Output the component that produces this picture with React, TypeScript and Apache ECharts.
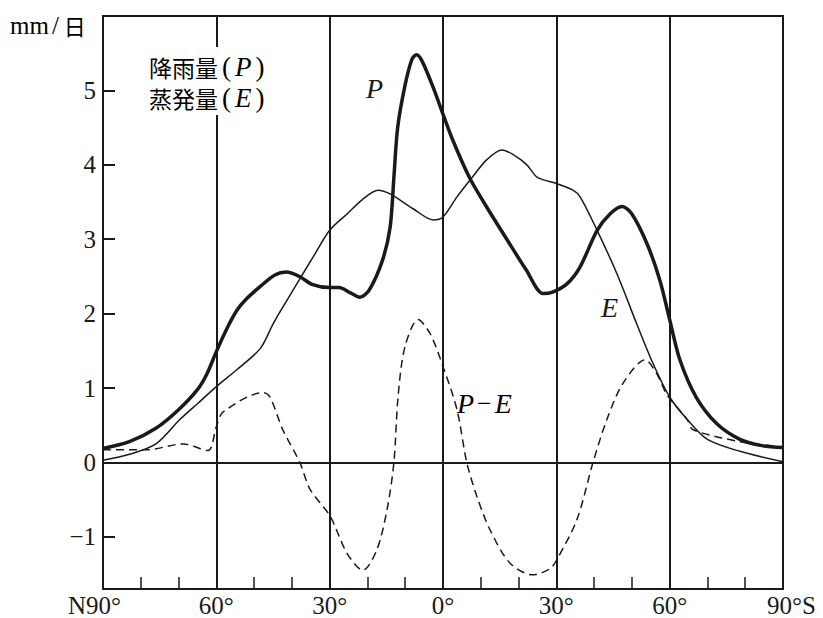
import React, { useEffect, useRef } from "react";
import * as echarts from "echarts";

// Latitude (N positive, S negative) and daily amounts (mm/日)
const latP = [90, 83, 76, 70, 65, 62.5, 60, 57, 54.5, 52, 48.5, 44.5, 41.5, 38, 34.5, 30, 27.5, 24.5, 22, 19.5, 16, 14, 13, 12, 10, 8.2, 7, 5.6, 2.6, 0, -2.6, -7, -11.6, -17, -22, -26.5, -29, -32.8, -36.3, -40.8, -44.2, -47.4, -50, -54, -57.4, -60, -62.7, -67, -72.5, -78.6, -84, -90];
const valP = [0.19, 0.28, 0.46, 0.71, 0.98, 1.19, 1.49, 1.82, 2.05, 2.2, 2.36, 2.52, 2.56, 2.5, 2.39, 2.35, 2.35, 2.28, 2.22, 2.32, 2.72, 3.16, 3.83, 4.5, 5.08, 5.42, 5.48, 5.4, 5.04, 4.68, 4.33, 3.83, 3.43, 2.99, 2.59, 2.27, 2.29, 2.4, 2.63, 3.12, 3.34, 3.44, 3.34, 2.94, 2.45, 1.92, 1.38, 0.88, 0.52, 0.31, 0.23, 0.2];

const latE = [90, 83, 76, 69.6, 65, 60, 54.5, 48.4, 45, 43.2, 38.7, 34.4, 30, 25.4, 21.2, 17.2, 14, 7.9, 2.6, 0, -3.7, -7.7, -11.6, -15.6, -18.5, -22.2, -25, -30, -34.4, -36.3, -40.8, -46.1, -51.3, -55.6, -60, -64.6, -70, -78.6, -90];
const valE = [0.03, 0.11, 0.25, 0.58, 0.79, 1.02, 1.25, 1.53, 1.86, 2.02, 2.4, 2.76, 3.12, 3.34, 3.54, 3.66, 3.61, 3.41, 3.26, 3.3, 3.57, 3.83, 4.07, 4.2, 4.14, 4.0, 3.83, 3.75, 3.66, 3.57, 3.12, 2.53, 1.86, 1.33, 0.88, 0.58, 0.31, 0.15, 0.01];

const latD = [90, 78.4, 68.8, 62.2, 60, 58.2, 47.6, 45.8, 42.4, 37.9, 35.2, 29.9, 25.4, 21.2, 17.5, 14.8, 13, 11.9, 10.1, 6.6, 3.4, 0, -3.7, -6.3, -9, -12.4, -17.7, -23.7, -28.3, -30.2, -35.5, -39.7, -43.4, -47.6, -53.5, -56.6, -59.3, -64.6, -66.2, -78.6, -88];
const valD = [0.17, 0.17, 0.25, 0.16, 0.48, 0.68, 0.94, 0.88, 0.44, 0, -0.36, -0.72, -1.22, -1.45, -1.17, -0.63, 0, 0.88, 1.55, 1.92, 1.73, 1.29, 0.71, 0, -0.46, -0.9, -1.35, -1.51, -1.43, -1.3, -0.76, 0, 0.58, 1.06, 1.38, 1.19, 0.91, 0.58, 0.44, 0.28, 0.22];

const yTicks = [-1, 0, 1, 2, 3, 4, 5];

const SERIF = "Liberation Serif, Times New Roman, serif";
const CJK = "Noto Sans CJK JP";
const INK = "#1a1a1a";

const zip = (xs: number[], ys: number[]) => xs.map((x, i) => [x, ys[i]]);

export default function App() {
  const ref = useRef<HTMLDivElement>(null);
  useEffect(() => {
    if (!ref.current) return;
    const chart = echarts.init(ref.current, null, { renderer: "svg" });
    const labelRich = {
      c: { fontFamily: CJK, fontSize: 23, color: INK },
      p: { fontFamily: SERIF, fontSize: 27, color: INK, padding: [0, 4, 0, 4] },
      i: { fontFamily: SERIF, fontStyle: "italic", fontSize: 27, color: INK },
    };
    chart.setOption({
      animation: false,
      backgroundColor: "#fff",
      grid: {
        left: 103,
        right: 40,
        top: 16,
        bottom: 26,
        show: true,
        borderColor: INK,
        borderWidth: 2,
        backgroundColor: "transparent",
      },
      xAxis: {
        type: "value",
        min: -90,
        max: 90,
        interval: 30,
        inverse: true,
        axisLine: { show: true, onZero: false, lineStyle: { color: INK, width: 2 } },
        axisTick: { show: false, inside: true, length: 12 },
        minorTick: { show: true, splitNumber: 3, length: 12, lineStyle: { color: INK, width: 1.5 } },
        splitLine: { show: true, lineStyle: { color: INK, width: 2 } },
        axisLabel: {
          margin: 4,
          fontFamily: SERIF,
          fontSize: 25,
          color: INK,
          showMinLabel: true,
          showMaxLabel: true,
          formatter: (v: number) => {
            if (v === 90) return "{n|N90°}";
            if (v === -90) return "{s|90°S}";
            return Math.abs(v) + "°";
          },
          rich: {
            n: { fontFamily: SERIF, fontSize: 25, color: INK, padding: [0, 17, 0, 0] },
            s: { fontFamily: SERIF, fontSize: 25, color: INK, padding: [0, 0, 0, 17] },
          },
        },
      },
      yAxis: {
        type: "value",
        min: -1.7,
        max: 6,
        axisLine: { show: true, onZero: false, lineStyle: { color: INK, width: 2 } },
        axisTick: { show: true, inside: true, length: 12, customValues: yTicks, lineStyle: { color: INK, width: 2 } },
        splitLine: { show: false },
        axisLabel: {
          customValues: yTicks,
          margin: 7,
          fontFamily: SERIF,
          fontSize: 25,
          color: INK,
          formatter: (v: number) => (v < 0 ? "−" + Math.abs(v) : String(v)),
        },
      },
      graphic: [
        { type: "rect", z: 50, shape: { x: 146, y: 47, width: 130, height: 68 }, style: { fill: "#fff" } },
        {
          type: "text",
          z: 51,
          x: 149,
          y: 67,
          style: { text: "{c|降雨量}{p|(}{i|P}{p|)}", rich: labelRich, textVerticalAlign: "middle" },
        },
        {
          type: "text",
          z: 51,
          x: 149,
          y: 98,
          style: { text: "{c|蒸発量}{p|(}{i|E}{p|)}", rich: labelRich, textVerticalAlign: "middle" },
        },
        {
          type: "text",
          z: 51,
          x: 10,
          y: 25,
          style: {
            text: "{a|mm}{b|/}{c|日}",
            textVerticalAlign: "middle",
            rich: {
              a: { fontFamily: SERIF, fontSize: 25, color: INK },
              b: { fontFamily: SERIF, fontSize: 25, color: INK, padding: [0, 5, 0, 3] },
              c: { fontFamily: CJK, fontSize: 22, color: INK },
            },
          },
        },
        {
          type: "text",
          z: 51,
          x: 366,
          y: 88,
          style: { text: "P", fontFamily: SERIF, fontStyle: "italic", fontSize: 28, fill: INK, textVerticalAlign: "middle" },
        },
        {
          type: "text",
          z: 51,
          x: 601,
          y: 307,
          style: { text: "E", fontFamily: SERIF, fontStyle: "italic", fontSize: 28, fill: INK, textVerticalAlign: "middle" },
        },
        {
          type: "text",
          z: 51,
          x: 457,
          y: 403,
          style: {
            text: "{i|P}{m|−}{i|E}",
            textVerticalAlign: "middle",
            rich: {
              i: { fontFamily: SERIF, fontStyle: "italic", fontSize: 28, color: INK },
              m: { fontFamily: SERIF, fontSize: 26, color: INK, padding: [0, 3, 0, 3] },
            },
          },
        },
      ],
      series: [
        {
          name: "E",
          type: "line",
          data: zip(latE, valE),
          smooth: 0.3,
          showSymbol: false,
          lineStyle: { color: INK, width: 1.5 },
          markLine: {
            silent: true,
            symbol: "none",
            label: { show: false },
            lineStyle: { color: INK, width: 2, type: "solid" },
            data: [{ yAxis: 0 }],
          },
        },
        {
          name: "P",
          type: "line",
          data: zip(latP, valP),
          smooth: 0.3,
          showSymbol: false,
          lineStyle: { color: INK, width: 3.5 },
        },
        {
          name: "P-E",
          type: "line",
          data: zip(latD, valD),
          smooth: 0.3,
          showSymbol: false,
          lineStyle: { color: INK, width: 1.5, type: [8, 5] },
        },
      ],
    });
    return () => chart.dispose();
  }, []);
  return <div ref={ref} style={{ position: "fixed", left: 0, top: 0, width: 823, height: 618 }} />;
}
